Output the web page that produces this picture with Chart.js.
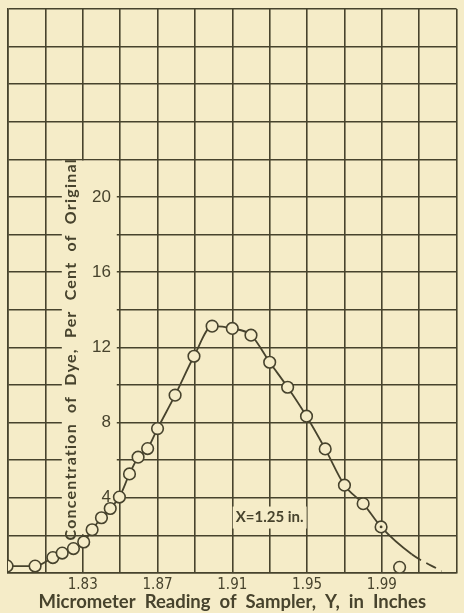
<!DOCTYPE html>
<html>
<head>
<meta charset="utf-8">
<title>Concentration of Dye vs Micrometer Reading</title>
<script src="https://cdn.jsdelivr.net/npm/chart.js@4.4.1/dist/chart.umd.min.js"></script>
<style>
  html, body { margin: 0; padding: 0; background: #f5ecc8; overflow: hidden; }
  canvas { display: block; }
</style>
</head>
<body>
<canvas id="dyeChart" width="464" height="613"></canvas>
<script>
/* -------------------- Data -------------------- */

// Micrometer reading of sampler, Y, in inches
const readingY = [
  1.7895, 1.8045, 1.814, 1.819, 1.825, 1.8305, 1.835, 1.840, 1.8447,
  1.8496, 1.855, 1.8596, 1.8647, 1.870, 1.8794, 1.8895, 1.8992, 1.910,
  1.920, 1.930, 1.9396, 1.9497, 1.9597, 1.970, 1.980, 1.9896, 1.9995
];

// Concentration of dye, per cent of original
const concentration = [
  0.37, 0.37, 0.82, 1.06, 1.30, 1.65, 2.30, 2.94, 3.43,
  4.04, 5.27, 6.16, 6.62, 7.68, 9.46, 11.53, 13.13, 13.01,
  12.65, 11.21, 9.88, 8.34, 6.60, 4.67, 3.69, 2.45, 0.30
];

// how many of the samples the faired curve runs through (last one falls off it)
const curveSampleCount = 26;

// faired curve continued past the last sample (dashed part)
const tailReading = [2.006, 2.022];
const tailConcentration = [1.0, 0.1];

// sample drawn with a dot in the middle
const dottedReading = [1.9896];
const dottedConcentration = [2.45];

// numbered ticks
const xTickLabels = [1.83, 1.87, 1.91, 1.95, 1.99];
const yTickLabels = [4, 8, 12, 16, 20];

const yTitle = "Concentration  of  Dye,  Per  Cent  of  Original";
const xTitle = "Micrometer  Reading  of  Sampler,  Y,  in  Inches";
const noteText = "X=1.25 in.";

/* -------------------- Styling -------------------- */

const INK = "#47432d";
const PAPER = "#f5ecc8";

window.addEventListener("DOMContentLoaded", () => {
  buildDyeChart();
});

function isListed(list, value) {
  return list.some(v => Math.abs(v - value) < 1e-6);
}

// Blank paper behind the vertical title / tick numbers and the X= note,
// then the texts themselves (grid is already drawn, points come after).
const paperPanels = {
  id: "paperPanels",
  beforeDatasetsDraw(chart) {
    const { ctx } = chart;
    const x = chart.scales.x;
    const y = chart.scales.y;

    ctx.save();
    ctx.fillStyle = PAPER;
    const left = x.getPixelForValue(1.8188);
    const right = x.getPixelForValue(1.8482);
    const top = y.getPixelForValue(22) + 1.2;
    const bottom = y.getPixelForValue(2) - 1.2;
    ctx.fillRect(left, top, right - left, bottom - top);

    ctx.translate(x.getPixelForValue(1.8234), y.getPixelForValue(11.9));
    ctx.rotate(-Math.PI / 2);
    ctx.font = "bold 16px Lato";
    ctx.letterSpacing = "1.2px";
    ctx.fillStyle = INK;
    ctx.textAlign = "center";
    ctx.textBaseline = "middle";
    ctx.fillText(yTitle, 0, 0);
    ctx.restore();

    // note about the traverse position
    ctx.save();
    ctx.font = "bold 15px Lato";
    const cx = x.getPixelForValue(1.93);
    const cy = y.getPixelForValue(2.95);
    const w = ctx.measureText(noteText).width;
    ctx.fillStyle = PAPER;
    ctx.fillRect(cx - w / 2 - 3, cy - 11, w + 6, 22);
    ctx.fillStyle = INK;
    ctx.textAlign = "center";
    ctx.textBaseline = "middle";
    ctx.fillText(noteText, cx, cy);
    ctx.restore();
  }
};

function buildDyeChart() {
  const samplePoints = readingY.map((x, i) => ({ x, y: concentration[i] }));
  const curvePoints = samplePoints
    .slice(0, curveSampleCount)
    .concat(tailReading.map((x, i) => ({ x, y: tailConcentration[i] })));
  const dotPoints = dottedReading.map((x, i) => ({ x, y: dottedConcentration[i] }));

  const ctx = document.getElementById("dyeChart").getContext("2d");

  new Chart(ctx, {
    type: "scatter",
    data: {
      datasets: [
        {
          label: "Centre dot",
          data: dotPoints,
          pointRadius: 1.4,
          pointBorderWidth: 0,
          pointBackgroundColor: INK,
          order: 0
        },
        {
          label: "Samples",
          data: samplePoints,
          pointRadius: 5.8,
          pointBorderWidth: 1.6,
          pointBorderColor: INK,
          pointBackgroundColor: PAPER,
          order: 1
        },
        {
          label: "Faired curve",
          data: curvePoints,
          showLine: true,
          pointRadius: 0,
          borderColor: INK,
          borderWidth: 1.8,
          cubicInterpolationMode: "monotone",
          segment: {
            // past the last good sample the curve is only sketched in
            borderDash: c => (c.p0DataIndex >= curveSampleCount ? [11, 6] : undefined)
          },
          order: 2
        }
      ]
    },
    options: {
      responsive: false,
      animation: false,
      layout: { padding: { left: 8, right: 4, top: 9 } },
      plugins: {
        legend: { display: false },
        tooltip: { enabled: false }
      },
      scales: {
        x: {
          type: "linear",
          min: 1.79,
          max: 2.03,
          grid: { color: INK, lineWidth: 1.6, drawTicks: false },
          border: { color: INK, width: 1.6 },
          ticks: {
            stepSize: 0.02,
            autoSkip: false,
            maxRotation: 0,
            padding: 3,
            color: INK,
            font: { family: "'Liberation Sans Narrow', 'DejaVu Sans Condensed', sans-serif", size: 15 },
            callback: value => (isListed(xTickLabels, value) ? value.toFixed(2) : "")
          },
          title: {
            display: true,
            text: xTitle,
            color: INK,
            font: { family: "Lato", size: 18.5, weight: "bold" },
            padding: { top: 0, bottom: 0 }
          },
          afterFit(scale) {
            scale.height = 40;
          }
        },
        y: {
          min: 0,
          max: 30,
          grid: { color: INK, lineWidth: 1.6, drawTicks: false },
          border: { color: INK, width: 1.6 },
          ticks: {
            stepSize: 2,
            autoSkip: false,
            mirror: true,
            crossAlign: "far",
            padding: 84,
            z: 1,
            color: INK,
            font: { family: "'Liberation Sans', sans-serif", size: 17 },
            callback: value => (isListed(yTickLabels, value) ? String(value) : "")
          },
          afterFit(scale) {
            // mirrored labels sit inside the grid; don't let their offset pad the layout
            scale.width = 0;
            scale.paddingTop = 0;
            scale.paddingBottom = 0;
          }
        }
      }
    },
    plugins: [paperPanels]
  });
}
</script>
</body>
</html>
